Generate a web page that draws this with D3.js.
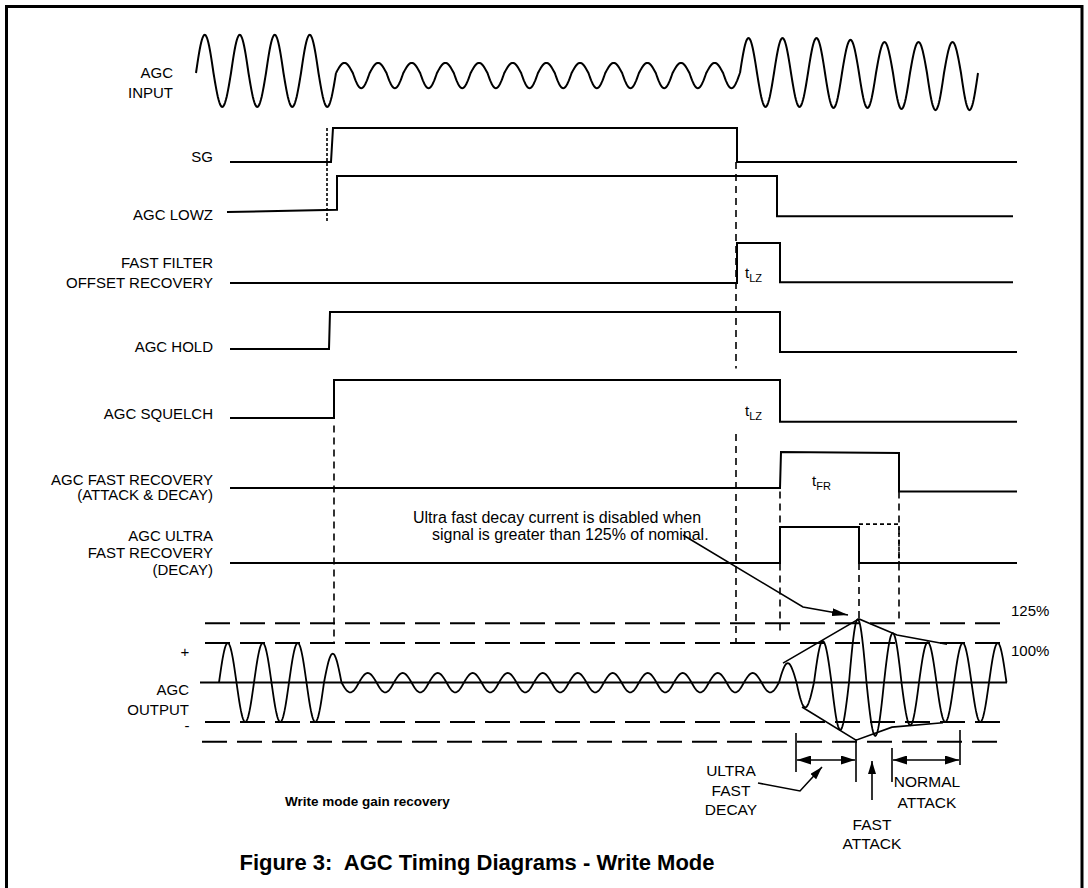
<!DOCTYPE html>
<html><head><meta charset="utf-8">
<script src="https://cdn.jsdelivr.net/npm/d3@7"></script>
<style>
body{margin:0;background:#fff}
svg{display:block}
text{font-family:"Liberation Sans",Arial,Helvetica,sans-serif;fill:#000}
</style>
</head><body>
<svg id="c" width="1088" height="888"></svg>
<script>
// ================= DATA =================
// Signal names (multi-line labels)
const signalLabels = [
  ["SG"],
  ["AGC LOWZ"],
  ["FAST FILTER", "OFFSET RECOVERY"],
  ["AGC HOLD"],
  ["AGC SQUELCH"],
  ["AGC FAST RECOVERY", "(ATTACK & DECAY)"],
  ["AGC ULTRA", "FAST RECOVERY", "(DECAY)"]
];
// Logic waveforms: [time, level]  (0 = low, 1 = high)
const sgWave       = [[40,0],[141,0],[143,1],[547,1],[547,0],[827,0]];
const lowzWave     = [[37,0],[147,0.06],[147,1],[587,1],[587,-0.12],[823,-0.12]];
const ffoRecWave   = [[40,0],[547,0],[547,1],[590,1],[590,0.02],[823,0.02]];
const holdWave     = [[40,0],[139,0],[140,1],[590,1],[590,-0.08],[827,-0.08]];
const squelchWave  = [[40,0],[144,0],[144,1],[590,1],[590,-0.1],[827,-0.1]];
const fastRecWave  = [[40,0],[590,0],[591,1],[709,0.97],[709,-0.1],[827,-0.1]];
const ultraRecWave = [[40,0],[590,0],[590,1],[669,1],[669,0],[827,0]];
const ultraRecDotted = [[669,1.08],[709,1.08],[709,0]];
const signalWaves = [sgWave, lowzWave, ffoRecWave, holdWave, squelchWave, fastRecWave, ultraRecWave];

// AGC input bursts: start time, half-period, half-cycle peak values
const inputBurstStart = [6, 146, 550];
const inputBurstHalf  = [17.5, 16.83, 17];
const inputBurstAmps  = [
  [1.06,-0.94,1.06,-0.94,1.06,-0.94,1.06,-0.94],
  [0.28,-0.42,0.28,-0.42,0.28,-0.42,0.28,-0.42,0.28,-0.42,0.28,-0.42,
   0.28,-0.42,0.28,-0.42,0.28,-0.42,0.28,-0.42,0.28,-0.42,0.28,-0.42],
  [0.97,-0.94,0.97,-0.94,0.97,-0.97,0.92,-0.97,0.86,-1.0,0.86,-1.03,0.86,-1.03]
];

// AGC output: half-cycle peak values (1 = 100% line as drawn)
const outputStart = 29;
const outputHalf = 17.5;
const outputAmps = [
  1,-1,1,-1,1,-1,0.73,
  -0.25,0.24,-0.25,0.24,-0.25,0.24,-0.25,0.24,-0.25,0.24,-0.25,0.24,-0.25,
  0.24,-0.25,0.24,-0.25,0.24,-0.25,0.24,-0.25,0.24,-0.25,0.24,-0.25,
  0.49,-0.63,1.05,-1.2,1.6,-1.35,1.25,-1.08,1.02,-1,1,-1,1
];
const upperEnvelope = [[593,0.49],[669,1.61],[707,1.2],[757,0.97]];
const lowerEnvelope = [[612,-0.62],[666,-1.46],[702,-1.13],[753,-1.02]];
const outputRefLevels = [1.5, 1, -1, -1.5];
const outputRefLabels = [["125%",1.5],["100%",1]];

// Timing markers (time)
const dottedMarkerTime = 137;
const dashedMarkerTimes = [546, 144, 590, 709, 669];
// Measurement brackets at the bottom (time)
const bracketTimes = [606, 666, 702, 770];

// ================= LAYOUT =================
const svg = d3.select("#c");
const x = d3.scaleLinear().domain([0, 830]).range([190, 1020]);
const rowLow = [162, 212, 283, 349, 418, 488, 563];
const rowH   = [34, 36, 40, 37, 38, 36, 36];
const rowY = rowLow.map((b,i)=>d3.scaleLinear().domain([0,1]).range([b, b-rowH[i]]));
const yIn  = d3.scaleLinear().domain([-1,1]).range([109, 37]);
const yOut = d3.scaleLinear().domain([-1,1]).range([722, 643]);
const FONT = 15;
const SW = 2;

// frame
svg.append("rect").attr("x",6.5).attr("y",6.5).attr("width",1075.5).attr("height",900)
  .attr("fill","none").attr("stroke","#000").attr("stroke-width",3);

// arrowhead markers
const defs = svg.append("defs");
function mk(id, len, wid){
  defs.append("marker").attr("id",id).attr("markerUnits","userSpaceOnUse")
    .attr("viewBox",`0 0 ${len} ${wid}`).attr("refX",len).attr("refY",wid/2)
    .attr("markerWidth",len).attr("markerHeight",wid).attr("orient","auto-start-reverse")
    .append("path").attr("d",`M0,0L${len},${wid/2}L0,${wid}Z`).attr("fill","#000");
}
mk("ahBig",16,8); mk("ahMid",14,9); mk("ahSm",13,8);

const line = d3.line();

// ---- wave helper ----
function halfWaves(start, half, amps, ys){
  const pts=[]; const N=24;
  amps.forEach((a,i)=>{
    const t0=start+i*half;
    for(let k=(i?1:0);k<=N;k++){
      const tt=t0+half*k/N;
      pts.push([x(tt), ys(a*Math.sin(Math.PI*k/N))]);
    }
  });
  return pts;
}

// ---- AGC INPUT ----
inputBurstAmps.forEach((amps,i)=>{
  svg.append("path").attr("d", line(halfWaves(inputBurstStart[i], inputBurstHalf[i], amps, yIn)))
    .attr("fill","none").attr("stroke","#000").attr("stroke-width",SW);
});
svg.append("text").attr("x",173).attr("y",78).attr("text-anchor","end").attr("font-size",FONT).text("AGC");
svg.append("text").attr("x",173).attr("y",98).attr("text-anchor","end").attr("font-size",FONT).text("INPUT");

// ---- logic signals ----
signalWaves.forEach((w,i)=>{
  svg.append("path").attr("d", line(w.map(d=>[x(d[0]), rowY[i](d[1])])))
    .attr("fill","none").attr("stroke","#000").attr("stroke-width",SW);
});
svg.append("path").attr("d", line(ultraRecDotted.map(d=>[x(d[0]), rowY[6](d[1])])))
  .attr("fill","none").attr("stroke","#000").attr("stroke-width",1.6).attr("stroke-dasharray","4,3");

const labelBase = [[162],[220],[268,288],[352],[419],[485,500],[541,558,575]];
signalLabels.forEach((lines,i)=>{
  lines.forEach((s,j)=>{
    svg.append("text").attr("x",213).attr("y",labelBase[i][j]).attr("text-anchor","end")
      .attr("font-size",FONT).text(s);
  });
});

// ---- timing markers ----
svg.append("line").attr("x1",x(dottedMarkerTime)).attr("x2",x(dottedMarkerTime))
  .attr("y1",rowY[0](1)).attr("y2",rowY[1](-0.25))
  .attr("stroke","#000").attr("stroke-width",1.6).attr("stroke-dasharray","3,2");
const markerSpans = [
  [[rowY[0](0), rowY[4](1.3)], [rowY[5](1.5), yOut(1)]],
  [[rowY[4](-0.2), yOut(1)]],
  [[rowY[5](-0.1), yOut(1.3)]],
  [[rowY[5](-0.1), yOut(1.5)]],
  [[rowY[6](0), yOut(1.6)]]
];
dashedMarkerTimes.forEach((t,i)=>{
  markerSpans[i].forEach(sp=>{
    svg.append("line").attr("x1",x(t)).attr("x2",x(t)).attr("y1",sp[0]).attr("y2",sp[1])
      .attr("stroke","#000").attr("stroke-width",1.6).attr("stroke-dasharray","7,5");
  });
});

// t labels
function tLabel(px, py, sub){
  const t = svg.append("text").attr("x",px).attr("y",py).attr("font-size",FONT);
  t.append("tspan").text("t");
  t.append("tspan").attr("font-size",11).attr("dy",4).text(sub);
}
tLabel(745, 278, "LZ");
tLabel(745, 416, "LZ");
tLabel(812, 486, "FR");

// ---- annotation ----
svg.append("text").attr("x",413).attr("y",523).attr("font-size",16).text("Ultra fast decay current is disabled when");
svg.append("text").attr("x",432).attr("y",540).attr("font-size",16).text("signal is greater than 125% of nominal.");
svg.append("path").attr("d", line([[683,535],[803,607],[848,615]]))
  .attr("fill","none").attr("stroke","#000").attr("stroke-width",1.6).attr("marker-end","url(#ahBig)");

// ---- AGC OUTPUT ----
outputRefLevels.forEach((v,i)=>{
  const x0 = v===-1.5 ? 202 : 205;
  svg.append("line").attr("x1",x0).attr("x2",1000).attr("y1",yOut(v)).attr("y2",yOut(v))
    .attr("stroke","#000").attr("stroke-width",1.8).attr("stroke-dasharray","25,10");
});
svg.append("line").attr("x1",200).attr("x2",1007).attr("y1",yOut(0)).attr("y2",yOut(0))
  .attr("stroke","#000").attr("stroke-width",1.8);
svg.append("path").attr("d", line(halfWaves(outputStart, outputHalf, outputAmps, yOut)))
  .attr("fill","none").attr("stroke","#000").attr("stroke-width",1.8);
[upperEnvelope, lowerEnvelope].forEach(env=>{
  svg.append("path").attr("d", line(env.map(d=>[x(d[0]), yOut(d[1])])))
    .attr("fill","none").attr("stroke","#000").attr("stroke-width",1.6);
});
outputRefLabels.forEach(([s,v],i)=>{
  svg.append("text").attr("x",1011).attr("y", yOut(v) + (i===0 ? -7 : 13)).attr("font-size",FONT).text(s);
});
svg.append("text").attr("x",185).attr("y",657).attr("text-anchor","middle").attr("font-size",FONT).text("+");
svg.append("text").attr("x",189).attr("y",695).attr("text-anchor","end").attr("font-size",FONT).text("AGC");
svg.append("text").attr("x",189).attr("y",715).attr("text-anchor","end").attr("font-size",FONT).text("OUTPUT");
svg.append("text").attr("x",187).attr("y",731).attr("text-anchor","middle").attr("font-size",FONT).text("-");

// ---- measurement brackets ----
const bracketSpans = [[733,772],[739,782],[748,782],[730,765]];
bracketTimes.forEach((t,i)=>{
  svg.append("line").attr("x1",x(t)).attr("x2",x(t)).attr("y1",bracketSpans[i][0]).attr("y2",bracketSpans[i][1])
    .attr("stroke","#000").attr("stroke-width",1.6);
});
[[0,1],[2,3]].forEach(([a,b])=>{
  svg.append("line").attr("x1",x(bracketTimes[a])+1).attr("x2",x(bracketTimes[b])-1).attr("y1",760).attr("y2",760)
    .attr("stroke","#000").attr("stroke-width",1.6)
    .attr("marker-start","url(#ahMid)").attr("marker-end","url(#ahMid)");
});
// pointer arrows
svg.append("path").attr("d", line([[758,783],[800,791],[822,767]]))
  .attr("fill","none").attr("stroke","#000").attr("stroke-width",1.6).attr("marker-end","url(#ahSm)");
svg.append("line").attr("x1",872).attr("x2",872).attr("y1",800).attr("y2",761)
  .attr("stroke","#000").attr("stroke-width",1.6).attr("marker-end","url(#ahSm)");

function centered(lines, cx, y0, dy){
  lines.forEach((s,j)=>svg.append("text").attr("x",cx).attr("y",y0+j*dy).attr("text-anchor","middle").attr("font-size",15.5).text(s));
}
centered(["ULTRA","FAST","DECAY"], 731, 776, 19.5);
centered(["NORMAL","ATTACK"], 927, 787, 20.5);
centered(["FAST","ATTACK"], 872, 830, 19);

svg.append("text").attr("x",285).attr("y",806).attr("font-size",13.5).attr("font-weight","bold").text("Write mode gain recovery");
svg.append("text").attr("x",477).attr("y",870).attr("text-anchor","middle").attr("font-size",22).attr("font-weight","bold")
  .style("white-space","pre").text("Figure 3:  AGC Timing Diagrams - Write Mode");
</script>
</body></html>
